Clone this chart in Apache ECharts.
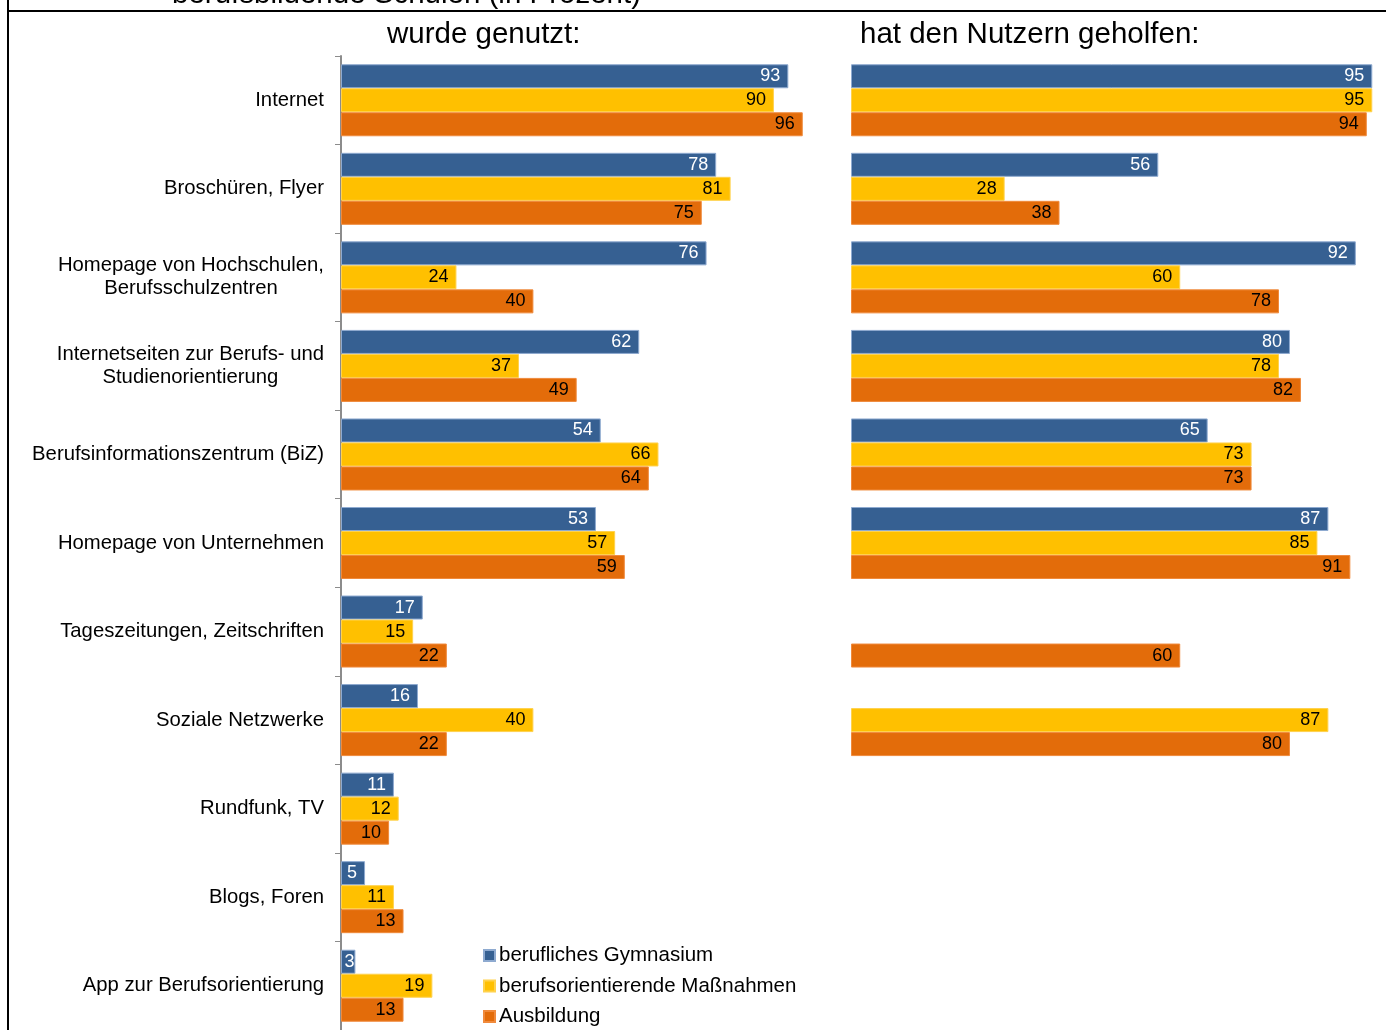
<!DOCTYPE html>
<html>
<head>
<meta charset="utf-8">
<script src="https://cdn.jsdelivr.net/npm/echarts@6/dist/echarts.min.js"></script>
<style>
html,body{margin:0;padding:0;background:#fff;}
#c{width:1386px;height:1030px;}
</style>
</head>
<body>
<div id="c"></div>
<script>
const categories = [
  'Internet',
  'Broschüren, Flyer',
  'Homepage von Hochschulen,\nBerufsschulzentren',
  'Internetseiten zur Berufs- und\nStudienorientierung',
  'Berufsinformationszentrum (BiZ)',
  'Homepage von Unternehmen',
  'Tageszeitungen, Zeitschriften',
  'Soziale Netzwerke',
  'Rundfunk, TV',
  'Blogs, Foren',
  'App zur Berufsorientierung'
];
const seriesNames = ['berufliches Gymnasium', 'berufsorientierende Maßnahmen', 'Ausbildung'];

// "wurde genutzt:"
const usedGymnasium = [93, 78, 76, 62, 54, 53, 17, 16, 11, 5, 3];
const usedMassnahmen = [90, 81, 24, 37, 66, 57, 15, 40, 12, 11, 19];
const usedAusbildung = [96, 75, 40, 49, 64, 59, 22, 22, 10, 13, 13];

// "hat den Nutzern geholfen:"
const helpedGymnasium = [95, 56, 92, 80, 65, 87, null, null, null, null, null];
const helpedMassnahmen = [95, 28, 60, 78, 73, 85, null, 87, null, null, null];
const helpedAusbildung = [94, 38, 78, 82, 73, 91, 60, 80, null, null, null];

const titleText = 'berufsbildende Schulen (in Prozent)';
const leftHeader = 'wurde genutzt:';
const rightHeader = 'hat den Nutzern geholfen:';

const FONT = "'Liberation Sans', Arial, sans-serif";
const colors = ['#366092', '#FFC000', '#E36C0A'];
const borders = ['#8EAAD0', '#FFD24D', '#F08A3C'];
const labelColors = ['#ffffff', '#000000', '#000000'];

function mkSeries(name, data, idx, gridIdx) {
  return {
    name: name,
    type: 'bar',
    xAxisIndex: gridIdx,
    yAxisIndex: gridIdx,
    data: data.map(function (v) {
      if (v !== null && v < 5) {
        return { value: v, label: { distance: 1 } };
      }
      return v;
    }),
    barWidth: 24,
    barGap: '0%',
    itemStyle: { color: colors[idx], borderColor: borders[idx], borderWidth: 1 },
    label: {
      show: true,
      position: 'insideRight',
      distance: 8,
      fontFamily: FONT,
      fontSize: 18,
      color: labelColors[idx]
    },
    emphasis: { disabled: true },
    animation: false
  };
}

const chart = echarts.init(document.getElementById('c'), null, { renderer: 'canvas' });
chart.setOption({
  animation: false,
  textStyle: { fontFamily: FONT },
  grid: [
    { left: 341, top: 56, width: 481, height: 974 },
    { left: 851, top: 56, width: 535, height: 974 }
  ],
  xAxis: [
    { gridIndex: 0, type: 'value', min: 0, max: 100, show: false },
    { gridIndex: 1, type: 'value', min: 0, max: 97.5, show: false }
  ],
  yAxis: [
    {
      gridIndex: 0, type: 'category', inverse: true, data: categories,
      axisLine: { show: true, lineStyle: { color: '#8c8c8c', width: 2 } },
      axisTick: { show: true, length: 6, lineStyle: { color: '#8c8c8c', width: 1 } },
      axisLabel: {
        margin: 17, fontSize: 20.3, color: '#000', fontFamily: FONT, lineHeight: 23,
        formatter: function (v) {
          if (v.indexOf('\n') >= 0) {
            return v.split('\n').map(s => '{c|' + s + '}').join('\n');
          }
          return v;
        },
        rich: { c: { align: 'center', fontSize: 20.3, lineHeight: 23, fontFamily: FONT, color: '#000' } }
      }
    },
    {
      gridIndex: 1, type: 'category', inverse: true, data: categories,
      axisLine: { show: false }, axisTick: { show: false }, axisLabel: { show: false }
    }
  ],
  legend: {
    orient: 'vertical',
    left: 483,
    top: 945,
    height: 200,
    padding: 0,
    itemWidth: 11,
    itemHeight: 11,
    itemGap: 9.5,
    icon: 'rect',
    selectedMode: false,
    data: seriesNames,
    textStyle: { fontSize: 20.5, color: '#000', fontFamily: FONT, padding: [0, 0, 0, -1] }
  },
  series: [
    mkSeries(seriesNames[0], usedGymnasium, 0, 0),
    mkSeries(seriesNames[1], usedMassnahmen, 1, 0),
    mkSeries(seriesNames[2], usedAusbildung, 2, 0),
    mkSeries(seriesNames[0], helpedGymnasium, 0, 1),
    mkSeries(seriesNames[1], helpedMassnahmen, 1, 1),
    mkSeries(seriesNames[2], helpedAusbildung, 2, 1)
  ],
  graphic: [
    { type: 'line', shape: { x1: 8, y1: 0, x2: 8, y2: 1030 }, style: { stroke: '#000', lineWidth: 2 }, silent: true },
    { type: 'line', shape: { x1: 8, y1: 11, x2: 1386, y2: 11 }, style: { stroke: '#000', lineWidth: 2 }, silent: true },
    { type: 'text', left: 172, top: -20, style: { text: titleText, font: '29.5px ' + FONT, fill: '#000' }, silent: true },
    { type: 'text', left: 387, top: 20, style: { text: leftHeader, font: '29.5px ' + FONT, fill: '#000' }, silent: true },
    { type: 'text', left: 860, top: 20, style: { text: rightHeader, font: '29.5px ' + FONT, fill: '#000' }, silent: true }
  ]
});
</script>
</body>
</html>
